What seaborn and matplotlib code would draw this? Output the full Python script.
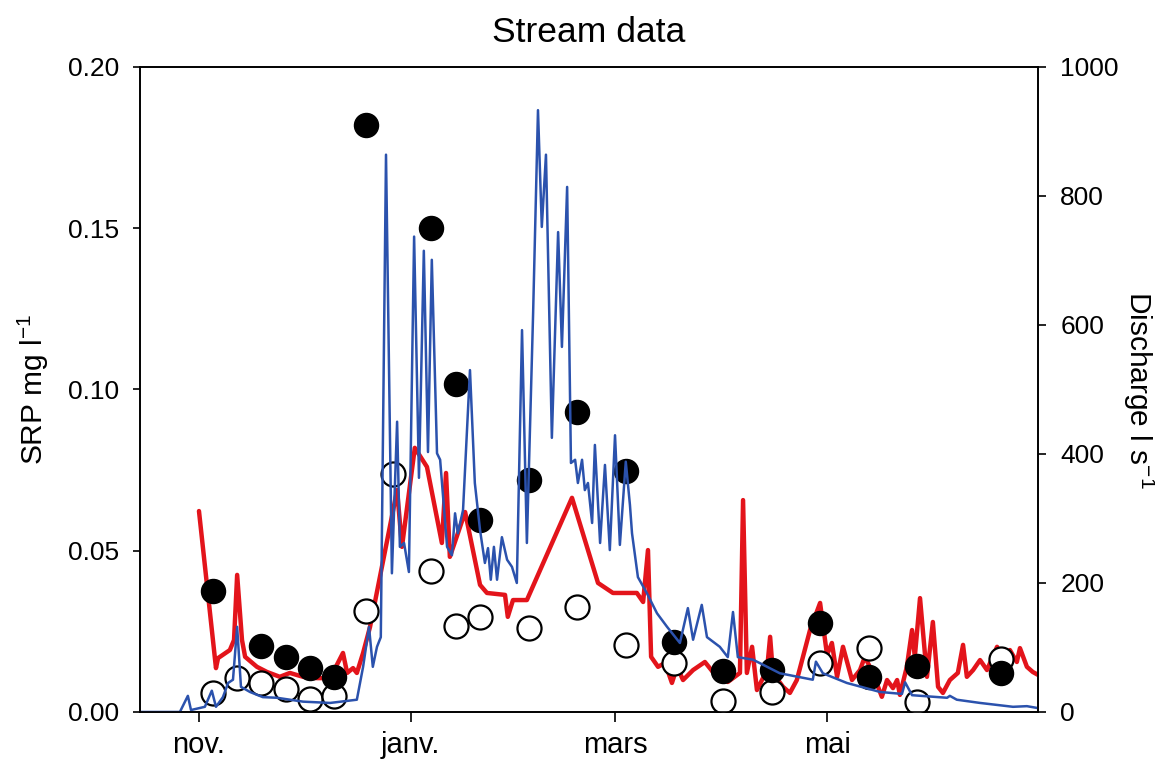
import matplotlib
matplotlib.use("Agg")
import numpy as np
import pandas as pd
import matplotlib.pyplot as plt
import matplotlib.ticker as mticker
import seaborn as sns

# ── Données (jours depuis le 1er novembre) ────────────────────────────────────
DEBUT = pd.Timestamp("2010-11-01")

# débit (axe droit, l s-1) : (jour, valeur)
DEBIT = [
    (-17.0, 0), (-5.5, 0), (-3.2, 25), (-2.3, 3), (1.7, 8), (3.7, 33), (4.9, 8),
    (6.9, 23), (8.4, 45), (9.8, 50), (11.0, 132), (12.1, 39), (14.7, 31),
    (18.4, 23), (22.5, 22), (30.0, 16), (37.8, 14), (45.5, 19), (47.3, 70),
    (49.0, 132), (50.1, 70), (51.3, 101), (52.4, 116), (53.9, 864), (55.6, 215),
    (57.1, 450), (57.9, 256), (59.1, 262), (60.5, 217), (62.0, 737), (63.4, 363),
    (64.8, 715), (66.0, 403), (67.1, 701), (68.6, 401), (69.5, 391), (71.5, 256),
    (72.9, 243), (73.8, 308), (74.6, 277), (76.1, 313), (78.1, 530), (79.5, 355),
    (81.0, 282), (82.4, 231), (83.3, 254), (84.1, 205), (85.0, 256), (85.9, 205),
    (87.3, 271), (88.8, 236), (90.2, 225), (91.6, 200), (93.1, 592), (94.5, 262),
    (96.3, 619), (97.7, 933), (98.8, 752), (100.0, 864), (101.7, 425),
    (103.5, 744), (104.6, 566), (106.1, 814), (107.2, 386), (108.4, 391),
    (109.2, 355), (110.4, 391), (111.2, 344), (112.1, 355), (113.3, 293),
    (114.1, 414), (115.6, 262), (117.0, 383), (118.4, 251), (119.9, 429),
    (121.3, 259), (123.0, 388), (124.2, 321), (124.8, 277), (126.5, 209),
    (129.1, 184), (132.0, 153), (134.9, 132), (138.6, 107), (140.9, 161),
    (142.4, 112), (144.9, 166), (146.4, 116), (150.1, 101), (152.4, 85),
    (153.9, 155), (155.3, 85), (159.7, 81), (167.4, 60), (176.9, 50), (177.8, 78),
    (179.8, 60), (186.7, 45), (196.3, 31), (202.6, 28), (203.5, 46), (205.5, 26),
    (215.6, 22), (216.4, 25), (218.4, 19), (225.1, 14), (234.6, 8), (238.6, 9),
    (241.8, 6),
]

# courbe rouge (axe gauche, mg l-1) : (jour, valeur)
SRP_CONTINU = [
    (0.0, 0.0623), (4.9, 0.0136), (5.5, 0.0167), (8.9, 0.0192), (10.1, 0.0223),
    (11.0, 0.0425), (12.4, 0.0223), (13.3, 0.0171), (16.7, 0.0140), (19.6, 0.0124),
    (23.3, 0.0109), (26.2, 0.0121), (30.0, 0.0109), (34.0, 0.0105), (37.8, 0.0105),
    (41.5, 0.0183), (42.7, 0.0121), (44.4, 0.0136), (45.5, 0.0121), (47.3, 0.0183),
    (49.3, 0.0264), (57.1, 0.0688), (58.5, 0.0512), (62.2, 0.0819), (65.7, 0.0760),
    (70.0, 0.0524), (71.2, 0.0741), (72.3, 0.0481), (76.7, 0.0620), (81.0, 0.0394),
    (83.0, 0.0369), (88.2, 0.0363), (89.0, 0.0295), (90.5, 0.0347), (94.5, 0.0347),
    (107.5, 0.0664), (115.0, 0.0400), (119.3, 0.0369), (126.2, 0.0369),
    (128.0, 0.0341), (129.4, 0.0502), (130.3, 0.0171), (132.3, 0.0140),
    (134.3, 0.0152), (136.3, 0.0090), (137.8, 0.0140), (139.5, 0.0099),
    (142.4, 0.0130), (145.8, 0.0155), (148.1, 0.0124), (152.4, 0.0093),
    (155.9, 0.0121), (156.8, 0.0657), (157.9, 0.0121), (159.4, 0.0202),
    (160.8, 0.0068), (163.7, 0.0130), (164.6, 0.0233), (165.4, 0.0121),
    (168.3, 0.0078), (170.3, 0.0059), (172.3, 0.0099), (176.1, 0.0254),
    (179.0, 0.0338), (181.0, 0.0177), (182.4, 0.0214), (183.9, 0.0109),
    (185.6, 0.0202), (188.2, 0.0099), (190.5, 0.0130), (191.9, 0.0171),
    (194.2, 0.0121), (196.8, 0.0047), (198.3, 0.0099), (200.0, 0.0074),
    (201.2, 0.0099), (202.0, 0.0053), (204.0, 0.0140), (205.5, 0.0254),
    (206.3, 0.0171), (207.8, 0.0353), (209.8, 0.0109), (211.5, 0.0279),
    (213.0, 0.0078), (214.4, 0.0059), (216.4, 0.0099), (218.7, 0.0121),
    (220.2, 0.0208), (221.3, 0.0109), (223.1, 0.0130), (225.1, 0.0161),
    (227.1, 0.0130), (230.0, 0.0202), (231.7, 0.0161), (233.7, 0.0192),
    (235.7, 0.0155), (236.6, 0.0198), (238.6, 0.0140), (240.3, 0.0124),
    (241.8, 0.0115),
]

# prélèvements ponctuels
DATES_PLEINS = ["2010-11-05", "2010-11-19", "2010-11-26", "2010-12-03", "2010-12-10",
                "2010-12-19", "2011-01-07", "2011-01-14", "2011-01-21", "2011-02-04",
                "2011-02-18", "2011-03-04", "2011-03-18", "2011-04-01", "2011-04-15",
                "2011-04-29", "2011-05-13", "2011-05-27", "2011-06-20"]
SRP_PLEINS = [0.0375, 0.0205, 0.0171, 0.0136, 0.0109, 0.182, 0.150, 0.1017, 0.0595,
              0.0719, 0.0930, 0.0747, 0.0217, 0.0127, 0.0130, 0.0276, 0.0109, 0.0143,
              0.0121]

DATES_VIDES = ["2010-11-05", "2010-11-12", "2010-11-19", "2010-11-26", "2010-12-03",
               "2010-12-10", "2010-12-19", "2010-12-27", "2011-01-07", "2011-01-14",
               "2011-01-21", "2011-02-04", "2011-02-18", "2011-03-04", "2011-03-18",
               "2011-04-01", "2011-04-15", "2011-04-29", "2011-05-13", "2011-05-27",
               "2011-06-20"]
SRP_VIDES = [0.0059, 0.0105, 0.0090, 0.0071, 0.0040, 0.0050, 0.0313, 0.0738, 0.0437,
             0.0267, 0.0295, 0.0260, 0.0326, 0.0208, 0.0152, 0.0034, 0.0062, 0.0152,
             0.0198, 0.0031, 0.0164]

MOIS_TICKS = ["2010-11-01", "2011-01-01", "2011-03-01", "2011-05-01"]
MOIS_LABELS = ["nov.", "janv.", "mars", "mai"]

BLEU = "#2b52ad"
ROUGE = "#e3141b"

# ── Style ─────────────────────────────────────────────────────────────────────
sns.set_style("ticks")
plt.rcParams["font.family"] = ["Liberation Sans", "DejaVu Sans"]
plt.rcParams["mathtext.fontset"] = "custom"
plt.rcParams["mathtext.rm"] = "Liberation Sans"
plt.rcParams["mathtext.it"] = "Liberation Sans:italic"
plt.rcParams["mathtext.default"] = "regular"
for k in ["text.color", "axes.labelcolor", "xtick.color", "ytick.color", "axes.edgecolor"]:
    plt.rcParams[k] = "black"


def en_dates(jours):
    return DEBUT + pd.to_timedelta(np.asarray(jours, dtype=float), unit="D")


q_j, q_v = zip(*DEBIT)
r_j, r_v = zip(*SRP_CONTINU)

# ── Figure ────────────────────────────────────────────────────────────────────
fig = plt.figure(figsize=(11.55, 7.6), dpi=100)
ax = fig.add_axes([0.1212, 0.0632, 0.7775, 0.8487])
ax2 = ax.twinx()

sns.lineplot(x=en_dates(r_j), y=list(r_v), ax=ax, color=ROUGE, lw=3.2,
             estimator=None, sort=False, zorder=2)
sns.scatterplot(x=pd.to_datetime(DATES_VIDES), y=SRP_VIDES, ax=ax, s=300,
                facecolor="white", edgecolor="black", linewidth=1.6, zorder=3)
sns.scatterplot(x=pd.to_datetime(DATES_PLEINS), y=SRP_PLEINS, ax=ax, s=300,
                color="black", edgecolor="black", linewidth=1, zorder=4)
sns.lineplot(x=en_dates(q_j), y=list(q_v), ax=ax2, color=BLEU, lw=1.8,
             estimator=None, sort=False)

# ── Axes ──────────────────────────────────────────────────────────────────────
ax.set_xlim(DEBUT - pd.Timedelta(days=17), DEBUT + pd.Timedelta(days=241.8))
ax.set_ylim(0, 0.20)
ax2.set_ylim(0, 1000)

ax.set_xticks(pd.to_datetime(MOIS_TICKS))
ax.set_xticklabels(MOIS_LABELS)
ax.set_yticks([0, 0.05, 0.10, 0.15, 0.20])
ax.yaxis.set_major_formatter(mticker.FormatStrFormatter("%.2f"))
ax2.set_yticks(np.arange(0, 1001, 200))

ax.tick_params(axis="y", direction="out", length=5, width=1.2, labelsize=19, pad=10)
ax.tick_params(axis="x", direction="out", length=7, width=1.2, labelsize=21, pad=7)
ax2.tick_params(axis="y", direction="out", length=6, width=1.2, labelsize=19, pad=10)

for a in (ax, ax2):
    for s in a.spines.values():
        s.set_linewidth(1.2)

ax.set_xlabel("")
ax.set_ylabel(r"SRP mg l$^{-1}$", fontsize=21.5, labelpad=12)
ax2.set_ylabel(r"Discharge l s$^{-1}$", fontsize=21.5, rotation=270, labelpad=2,
               va="bottom")
ax.set_title("Stream data", fontsize=25.5, pad=18)

plt.savefig("out.png", dpi=100)
